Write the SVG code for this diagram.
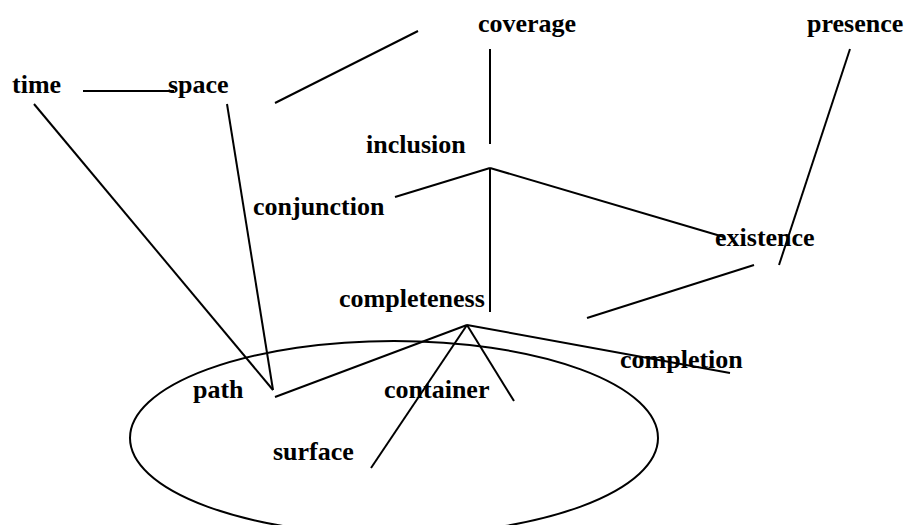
<svg xmlns="http://www.w3.org/2000/svg" width="907" height="525" viewBox="0 0 907 525">
<style>
.lbl{font-family:"Liberation Serif","Times New Roman",serif;font-weight:bold;font-size:26px;fill:#000}
.c line,.c ellipse{stroke:#000;stroke-width:2;fill:none}
</style>
<rect width="907" height="525" fill="#fff"/>
<g class="c" id="connectors">
<ellipse cx="394" cy="438" rx="264" ry="97"/>
<line x1="83" y1="91" x2="174" y2="91"/>
<line x1="275" y1="103" x2="418" y2="31"/>
<line x1="490" y1="49" x2="490" y2="144"/>
<line x1="395" y1="197" x2="490" y2="168"/>
<line x1="490" y1="168" x2="724" y2="237"/>
<line x1="490" y1="168" x2="490" y2="312"/>
<line x1="850" y1="49" x2="779" y2="265"/>
<line x1="587" y1="318" x2="754" y2="265"/>
<line x1="34" y1="104" x2="273" y2="390"/>
<line x1="227" y1="104" x2="273" y2="390"/>
<line x1="275" y1="397" x2="467" y2="325"/>
<line x1="467" y1="325" x2="730" y2="373"/>
<line x1="467" y1="325" x2="514" y2="401"/>
<line x1="467" y1="325" x2="371" y2="468"/>
</g>
<g id="time"><text class="lbl" x="12" y="93">time</text></g>
<g id="space"><text class="lbl" x="168" y="93">space</text></g>
<g id="coverage"><text class="lbl" x="478" y="32">coverage</text></g>
<g id="presence"><text class="lbl" x="807" y="32">presence</text></g>
<g id="inclusion"><text class="lbl" x="366" y="153">inclusion</text></g>
<g id="conjunction"><text class="lbl" x="253" y="215">conjunction</text></g>
<g id="existence"><text class="lbl" x="715" y="246">existence</text></g>
<g id="completeness"><text class="lbl" x="339" y="307">completeness</text></g>
<g id="completion"><text class="lbl" x="620" y="368">completion</text></g>
<g id="path"><text class="lbl" x="193" y="398">path</text></g>
<g id="container"><text class="lbl" x="384" y="398">container</text></g>
<g id="surface"><text class="lbl" x="273" y="460">surface</text></g>
</svg>
